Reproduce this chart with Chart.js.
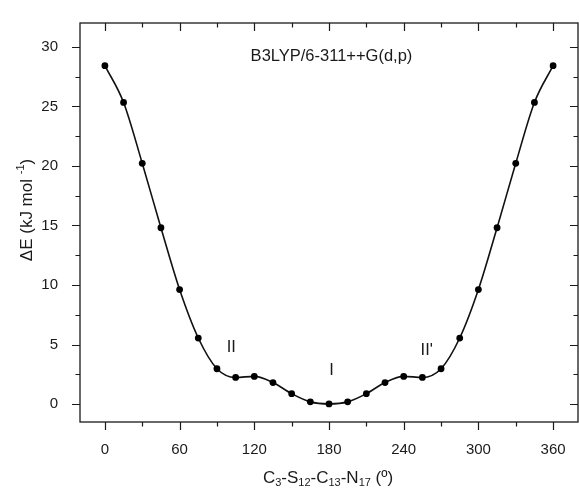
<!DOCTYPE html>
<html>
<head>
<meta charset="utf-8">
<script src="https://cdn.jsdelivr.net/npm/chart.js@4.4.1/dist/chart.umd.min.js"></script>
<style>
html, body { margin: 0; padding: 0; background: #fff; overflow: hidden; }
#wrap { width: 579px; height: 488px; overflow: hidden; }
canvas { display: block; }
</style>
</head>
<body>
<div id="wrap"><canvas id="myChart" width="582" height="488"></canvas></div>
<script>
// torsion scan, every 15 degrees
const angles = [0, 15, 30, 45, 60, 75, 90, 105, 120, 135, 150, 165, 180,
                195, 210, 225, 240, 255, 270, 285, 300, 315, 330, 345, 360];
const energies = [28.42, 25.33, 20.22, 14.81, 9.62, 5.55, 2.97, 2.24, 2.33, 1.81, 0.88, 0.19, 0.02,
                  0.19, 0.88, 1.81, 2.33, 2.24, 2.97, 5.55, 9.62, 14.81, 20.22, 25.33, 28.42];

const xTicks = [0, 60, 120, 180, 240, 300, 360];
const xMinor = [30, 90, 150, 210, 270, 330];
const yTicks = [0, 5, 10, 15, 20, 25, 30];
const yMinor = [2.5, 7.5, 12.5, 17.5, 22.5, 27.5];

const notes = [
    { text: 'B3LYP/6-311++G(d,p)', x: 182, y: 29.2 },
    { text: 'II', x: 101.5, y: 4.8 },
    { text: 'I', x: 182, y: 2.8 },
    { text: "II'", x: 258.5, y: 4.5 },
];

const FONT = "'Liberation Sans', Arial, sans-serif";
const INK = '#1a1a1a';

// text with sub/superscript pieces: [text, shift] shift 0 normal, 1 sub, -1 sup
function richText(ctx, parts, size) {
    const small = Math.round(size * 0.62);
    let w = 0;
    parts.forEach(p => {
        ctx.font = (p[1] ? small : size) + 'px ' + FONT;
        p.w = ctx.measureText(p[0]).width;
        w += p.w;
    });
    let cx = -w / 2;
    parts.forEach(p => {
        ctx.font = (p[1] ? small : size) + 'px ' + FONT;
        const dy = p[1] === 1 ? size * 0.3 : (p[1] === -1 ? -size * 0.38 : 0);
        ctx.fillText(p[0], cx, dy);
        cx += p.w;
    });
}

const frame = {
    id: 'frame',
    afterDraw(chart) {
        const { ctx, chartArea: a, scales: { x, y } } = chart;
        ctx.save();
        ctx.strokeStyle = INK;
        ctx.lineWidth = 1.3;
        ctx.strokeRect(a.left, a.top, a.right - a.left, a.bottom - a.top);

        ctx.beginPath();
        const xt = (list, len) => list.forEach(v => {
            const px = Math.round(x.getPixelForValue(v)) + 0.5;
            ctx.moveTo(px, a.bottom); ctx.lineTo(px, a.bottom + len);
            ctx.moveTo(px, a.top); ctx.lineTo(px, a.top + len);
        });
        const yt = (list, len) => list.forEach(v => {
            const py = Math.round(y.getPixelForValue(v)) + 0.5;
            ctx.moveTo(a.left, py); ctx.lineTo(a.left - len, py);
            ctx.moveTo(a.right, py); ctx.lineTo(a.right - len, py);
        });
        xt(xTicks, 8); xt(xMinor, 4.5);
        yt(yTicks, 8); yt(yMinor, 4.5);
        ctx.lineWidth = 1.2;
        ctx.stroke();

        ctx.fillStyle = INK;
        ctx.textAlign = 'left';
        ctx.textBaseline = 'middle';
        ctx.font = '16.5px ' + FONT;
        notes.forEach(n => {
            ctx.textAlign = 'center';
            ctx.fillText(n.text, x.getPixelForValue(n.x), y.getPixelForValue(n.y));
        });

        // axis titles
        ctx.textAlign = 'left';
        ctx.save();
        ctx.translate((a.left + a.right) / 2 - 1, 478);
        richText(ctx, [['C', 0], ['3', 1], ['-S', 0], ['12', 1], ['-C', 0], ['13', 1],
                       ['-N', 0], ['17', 1], [' (º)', 0]], 17);
        ctx.restore();

        ctx.save();
        ctx.translate(27, 210);
        ctx.rotate(-Math.PI / 2);
        richText(ctx, [['ΔE (kJ mol ', 0], ['-1', -1], [')', 0]], 17);
        ctx.restore();

        ctx.restore();
    }
};

new Chart(document.getElementById('myChart'), {
    type: 'line',
    data: {
        datasets: [{
            data: angles.map((a, i) => ({ x: a, y: energies[i] })),
            borderColor: '#111',
            borderWidth: 1.6,
            pointRadius: 3.4,
            pointBackgroundColor: '#000',
            pointBorderWidth: 0,
            cubicInterpolationMode: 'monotone',
            clip: false
        }]
    },
    options: {
        responsive: false,
        devicePixelRatio: 1,
        animation: false,
        layout: { padding: { top: 15, right: 2, left: 0, bottom: 0 } },
        plugins: { legend: { display: false }, tooltip: { enabled: false } },
        scales: {
            x: {
                type: 'linear',
                min: -20,
                max: 380,
                grid: { display: false },
                border: { display: false },
                afterBuildTicks: s => { s.ticks = xTicks.map(v => ({ value: v })); },
                afterFit: s => { s.height = 66; },
                ticks: { color: INK, padding: 11, maxRotation: 0, font: { size: 15, family: FONT } }
            },
            y: {
                min: -1.5,
                max: 32,
                grid: { display: false },
                border: { display: false },
                afterBuildTicks: s => { s.ticks = yTicks.map(v => ({ value: v })); },
                afterFit: s => { s.width = 80; },
                ticks: { color: INK, padding: 14, font: { size: 15, family: FONT } }
            }
        }
    },
    plugins: [frame]
});
</script>
</body>
</html>
